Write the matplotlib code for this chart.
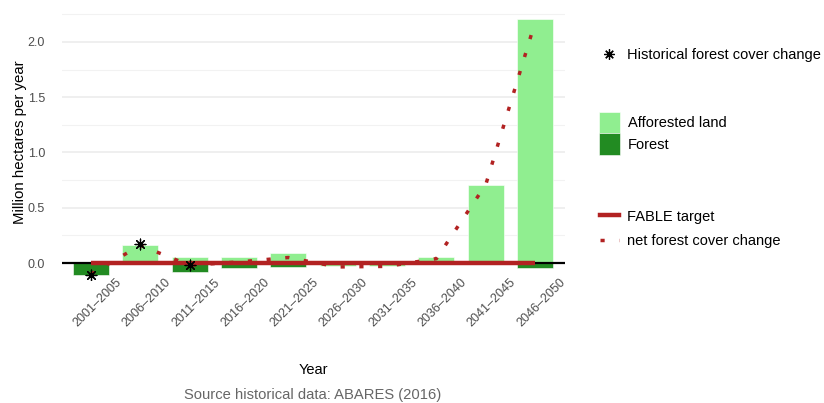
import matplotlib.pyplot as plt
from matplotlib.lines import Line2D
from matplotlib.patches import Patch
from matplotlib.transforms import ScaledTranslation
import numpy as np

plt.rcParams["font.family"] = ["Liberation Sans", "DejaVu Sans"]

# Data
periods = ["2001\u20132005", "2006\u20132010", "2011\u20132015", "2016\u20132020",
           "2021\u20132025", "2026\u20132030", "2031\u20132035", "2036\u20132040",
           "2041\u20132045", "2046\u20132050"]
afforested = [0.0, 0.16, 0.055, 0.055, 0.09, -0.03, -0.025, 0.055, 0.71, 2.21]
forest = [-0.11, 0.0, -0.08, -0.045, -0.04, 0.0, 0.0, 0.0, 0.0, -0.045]
net_change = [-0.10, 0.16, -0.02, 0.01, 0.05, -0.035, -0.03, 0.04, 0.71, 2.18]
historical = [-0.11, 0.17, -0.02]
fable_target = [0.0] * len(periods)

light = "#90ee90"
dark = "#228b22"
red = "#b22222"

fig = plt.figure(figsize=(8.24, 4.03), dpi=100)
ax = fig.add_axes([0.075, 0.305, 0.611, 0.683])

x = np.arange(len(periods))
w = 0.73

# stacked bars: positive parts go up, negative parts go down
aff = np.array(afforested)
forv = np.array(forest)
pos_base = np.zeros(len(x))
neg_base = np.zeros(len(x))
for vals, col in [(forv, dark), (aff, light)]:
    bottoms = np.where(vals >= 0, pos_base, neg_base)
    ax.bar(x, vals, width=w, bottom=bottoms, color=col, edgecolor="white",
           linewidth=0.4, zorder=2)
    pos_base = pos_base + np.where(vals >= 0, vals, 0)
    neg_base = neg_base + np.where(vals < 0, vals, 0)

ax.axhline(0, color="black", linewidth=1.6, zorder=3)
ax.plot(x, fable_target, color=red, linewidth=3.2, solid_capstyle="butt", zorder=4)
ax.plot(x, net_change, color=red, linewidth=2.5, linestyle=(0, (1.2, 4.2)),
        dash_capstyle="butt", zorder=5)
ax.scatter(x[:len(historical)], historical, marker=(8, 2, 0), s=60,
           color="black", linewidths=0.9, zorder=6)

ax.set_xlim(-0.59, 9.61)
ax.set_ylim(-0.154, 2.335)
ax.set_yticks([0, 0.5, 1.0, 1.5, 2.0])
ax.set_yticklabels(["0.0", "0.5", "1.0", "1.5", "2.0"])
ax.set_yticks([0.25, 0.75, 1.25, 1.75, 2.25], minor=True)
ax.grid(axis="y", which="major", color="#ebebeb", linewidth=1.1, zorder=0)
ax.grid(axis="y", which="minor", color="#f2f2f2", linewidth=0.8, zorder=0)
ax.set_axisbelow(True)
for s in ax.spines.values():
    s.set_visible(False)
ax.tick_params(axis="both", which="both", length=0, colors="#4d4d4d", labelsize=9)
ax.tick_params(axis="y", pad=12)
ax.set_xticks(x)
ax.set_xticklabels(periods, rotation=45, ha="right", rotation_mode="anchor")
ax.tick_params(axis="x", pad=6)
shift = ScaledTranslation(0.24, 0.12, fig.dpi_scale_trans)
for lab in ax.get_xticklabels():
    lab.set_transform(lab.get_transform() + shift)
ax.set_ylabel("Million hectares per year", fontsize=10.8, color="black", labelpad=0.5)
ax.set_xlabel("Year", fontsize=10.5, color="black", labelpad=24)

fig.text(0.38, 0.02, "Source historical data: ABARES (2016)", ha="center",
         va="center", fontsize=10.6, color="#666666")

# legends
leg_kw = dict(frameon=False, fontsize=10.5, handletextpad=0.55,
              borderaxespad=0, borderpad=0)
h1 = [Line2D([], [], linestyle="none", marker=(8, 2, 0), markersize=7.5,
             color="black", markeredgewidth=0.9)]
l1 = fig.legend(h1, ["Historical forest cover change"], loc="upper left",
                bbox_to_anchor=(0.728, 0.88), handlelength=1.3, **leg_kw)
h2 = [Patch(facecolor=light, edgecolor="white", linewidth=0.4),
      Patch(facecolor=dark, edgecolor="white", linewidth=0.4)]
l2 = fig.legend(h2, ["Afforested land", "Forest"], loc="upper left",
                bbox_to_anchor=(0.727, 0.722), handlelength=1.45, handleheight=1.85,
                labelspacing=0.02, **leg_kw)
h3 = [Line2D([], [], color=red, linewidth=3.2),
      Line2D([], [], color=red, linewidth=2.5, linestyle=(0, (1.2, 4.2)))]
l3 = fig.legend(h3, ["FABLE target", "net forest cover change"], loc="upper left",
                bbox_to_anchor=(0.728, 0.48), handlelength=1.3,
                labelspacing=0.7, **leg_kw)

fig.savefig("out.png", dpi=100)
